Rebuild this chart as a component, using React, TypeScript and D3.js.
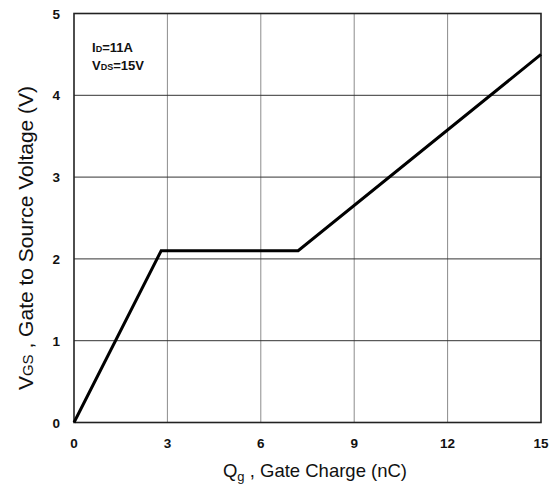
import React from "react";
import * as d3 from "d3";

const qg = [0, 2.8, 7.2, 15];
const vgs = [0, 2.1, 2.1, 4.5];
const xTicks = [0, 3, 6, 9, 12, 15];
const yTicks = [0, 1, 2, 3, 4, 5];

export default function App() {
  const W = 557, H = 490;
  const left = 74, right = 541, top = 13.5, bottom = 422.5;
  const x = d3.scaleLinear().domain([0, 15]).range([left, right]);
  const y = d3.scaleLinear().domain([0, 5]).range([bottom, top]);
  const pts: [number, number][] = qg.map((q, i) => [q, vgs[i]]);
  const line = d3.line<[number, number]>().x(d => x(d[0])).y(d => y(d[1]));
  const font = "Arial, 'Liberation Sans', sans-serif";
  return (
    <svg width={W} height={H} style={{ position: "absolute", left: 0, top: 0 }} fontFamily={font}>
      <rect width={W} height={H} fill="#fff" />
      {xTicks.slice(1, -1).map(t => (
        <line key={"vx" + t} x1={x(t)} x2={x(t)} y1={top} y2={bottom} stroke="#8c8c8c" strokeWidth={1} />
      ))}
      {yTicks.slice(1, -1).map(t => (
        <line key={"hy" + t} x1={left} x2={right} y1={y(t)} y2={y(t)} stroke="#333" strokeWidth={1} />
      ))}
      <rect x={left} y={top} width={right - left} height={bottom - top} fill="none" stroke="#222" strokeWidth={1.6} />
      <path d={line(pts) || ""} fill="none" stroke="#000" strokeWidth={3} strokeLinejoin="miter" />
      {xTicks.map(t => (
        <text key={"xt" + t} x={x(t)} y={448} textAnchor="middle" fontSize={13.5} fontWeight="bold" fill="#111">{t}</text>
      ))}
      {yTicks.map(t => (
        <text key={"yt" + t} x={60} y={y(t) + 5} textAnchor="end" fontSize={13.5} fontWeight="bold" fill="#111">{t}</text>
      ))}
      <text x={92} y={52} fontSize={13} fontWeight="bold" fill="#111">
        I<tspan fontSize={9}>D</tspan>=11A
      </text>
      <text x={92} y={70} fontSize={13} fontWeight="bold" fill="#111">
        V<tspan fontSize={9}>DS</tspan>=15V
      </text>
      <text x={315} y={477} textAnchor="middle" fontSize={18.5} fill="#111">
        Q<tspan fontSize={13} dy={4}>g</tspan><tspan dy={-4}> , Gate Charge (nC)</tspan>
      </text>
      <text transform={`translate(33, 238) rotate(-90)`} textAnchor="middle" fontSize={21} fill="#111">
        V<tspan fontSize={15}>GS</tspan> , Gate to Source Voltage (V)
      </text>
    </svg>
  );
}
